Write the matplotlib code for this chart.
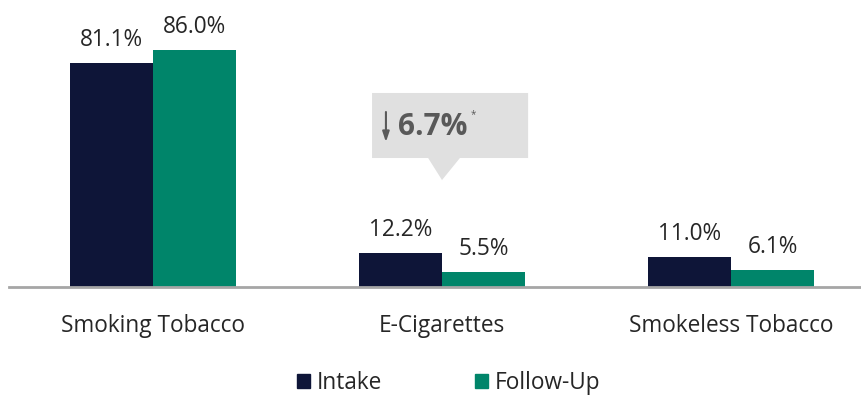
import matplotlib
matplotlib.use("Agg")
import matplotlib.pyplot as plt
from matplotlib.patches import Polygon, Patch
import numpy as np

categories = ["Smoking Tobacco", "E-Cigarettes", "Smokeless Tobacco"]
intake = [81.1, 12.2, 11.0]
follow_up = [86.0, 5.5, 6.1]
series_names = ["Intake", "Follow-Up"]
callout_text = "6.7%"

c_intake = "#0e1538"
c_follow = "#00856a"
txt = "#262626"
grey = "#595959"

plt.rcParams['font.family'] = ['Open Sans', 'DejaVu Sans']

fig = plt.figure(figsize=(8.62, 3.96), dpi=100)
ax = fig.add_axes([8.5/862, 109/396, 867/862, 275.6/396])
x = np.arange(len(categories))
w = 0.287
b1 = ax.bar(x - w/2, intake, w, color=c_intake)
b2 = ax.bar(x + w/2, follow_up, w, color=c_follow)
for bars, vals in ((b1, intake), (b2, follow_up)):
    for r, v in zip(bars, vals):
        ax.annotate(f"{v:.1f}%", (r.get_x() + r.get_width()/2, r.get_height()),
                    xytext=(0, 8), textcoords="offset points", ha="center", va="bottom",
                    fontsize=16.3, color=txt)

ax.set_xlim(-0.5, 2.5)
ax.set_ylim(0, 100)
ax.set_xticks(x)
ax.set_xticklabels(categories, fontsize=16.3, color=txt)
ax.tick_params(axis='x', length=0, pad=19.5)
ax.set_yticks([])
for s in ("left", "right", "top"):
    ax.spines[s].set_visible(False)
ax.spines["bottom"].set_color("#a6a6a6")
ax.spines["bottom"].set_linewidth(2)

# callout over E-Cigarettes
cx = x[1]
box = Polygon([(cx - 0.242, 70.4), (cx + 0.298, 70.4), (cx + 0.298, 46.8),
               (cx + 0.062, 46.8), (cx, 38.8), (cx - 0.048, 46.8), (cx - 0.242, 46.8)],
              closed=True, facecolor="#e0e0e0", edgecolor="none", zorder=3)
ax.add_patch(box)
ax.annotate("", xy=(cx - 0.194, 52.6), xytext=(cx - 0.194, 63.5),
            arrowprops=dict(arrowstyle="-|>,head_width=0.2,head_length=0.6",
                            color=grey, lw=1.5, shrinkA=0, shrinkB=0), zorder=4)
ax.text(cx - 0.153, 55.1, callout_text, fontsize=21.5, fontweight="bold", color=grey,
        ha="left", va="baseline", zorder=4)
ax.text(cx + 0.10, 62.6, "*", fontsize=7, color=grey, ha="left", va="center", zorder=4)

handles = [Patch(color=c_intake), Patch(color=c_follow)]
fig.legend(handles, series_names, loc="center", bbox_to_anchor=(449/862, 1 - 383/396),
           ncol=2, frameon=False, fontsize=16.3, handlelength=0.58, handleheight=0.58,
           handletextpad=0.3, columnspacing=4.1, labelcolor=txt, borderpad=0.1)

fig.savefig("out.png", dpi=100)
